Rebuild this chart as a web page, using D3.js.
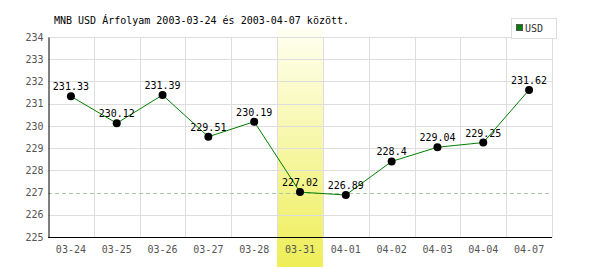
<!DOCTYPE html>
<html><head><meta charset="utf-8">
<script src="https://cdn.jsdelivr.net/npm/d3@7"></script>
<style>body{margin:0;background:#fff}svg{display:block}</style>
</head><body>
<svg id="c" width="600" height="270"></svg>
<script>
const categories = ["03-24","03-25","03-26","03-27","03-28","03-31","04-01","04-02","04-03","04-04","04-07"];
const values = [231.33,230.12,231.39,229.51,230.19,227.02,226.89,228.4,229.04,229.25,231.62];
const yTicks = [225,226,227,228,229,230,231,232,233,234];
const refValue = 227;
const highlight = "03-31";
const title = "MNB USD Árfolyam 2003-03-24 és 2003-04-07 között.";
const seriesName = "USD";

const svg = d3.select("#c");
const font = "'DejaVu Sans Mono', monospace";
const L = 48, R = 552, T = 37, B = 237;
const x = d3.scaleBand().domain(categories).range([L, R]);
const y = d3.scaleLinear().domain([225, 234]).range([B, T]);

const defs = svg.append("defs");
const g = defs.append("linearGradient").attr("id","hl").attr("x1",0).attr("y1",0).attr("x2",0).attr("y2",1);
g.append("stop").attr("offset","0%").attr("stop-color","#fffff2");
g.append("stop").attr("offset","100%").attr("stop-color","#eeee58");

svg.append("rect").attr("x", x(highlight)).attr("y", 28).attr("width", x.bandwidth()).attr("height", 239)
  .attr("fill","url(#hl)");

// horizontal grid
svg.append("g").selectAll("line").data(yTicks.filter(d=>d!==225 && d!==refValue)).join("line")
  .attr("x1", L).attr("x2", R).attr("y1", d=>Math.round(y(d))+0.5).attr("y2", d=>Math.round(y(d))+0.5)
  .attr("stroke","#dddddd");
// vertical grid
svg.append("g").selectAll("line").data(categories.slice(1).concat(["end"])).join("line")
  .attr("x1", (d,i)=> Math.round(i < categories.length-1 ? x(d) : R)+0.5)
  .attr("x2", (d,i)=> Math.round(i < categories.length-1 ? x(d) : R)+0.5)
  .attr("y1", T).attr("y2", B).attr("stroke","#dddddd");

// reference dashed line
svg.append("line").attr("x1", L).attr("x2", R).attr("y1", Math.round(y(refValue))+0.5).attr("y2", Math.round(y(refValue))+0.5)
  .attr("stroke","#a8c8a8").attr("stroke-dasharray","4,3");

// axes
const yAxis = d3.axisLeft(y).tickValues(yTicks).tickSize(0).tickPadding(5).tickFormat(d3.format("d"));
const ya = svg.append("g").attr("transform",`translate(${L+0.5},0)`).call(yAxis);
ya.select(".domain").attr("stroke","#000");
ya.selectAll("text").attr("fill","#555").style("font-family",font).style("font-size","10px");

const xAxis = d3.axisBottom(x).tickSize(0).tickPadding(8);
const xa = svg.append("g").attr("transform",`translate(0,${B+0.5})`).call(xAxis);
xa.select(".domain").attr("stroke","#000").attr("d", `M${L},0H${R}`);
xa.selectAll("text").attr("fill","#555").style("font-family",font).style("font-size","10px");

// line
const cx = d => x(d) + x.bandwidth()/2;
svg.append("path").datum(values)
  .attr("d", d3.line().x((d,i)=>cx(categories[i])).y(d=>y(d)))
  .attr("fill","none").attr("stroke","#008000").attr("stroke-width",1);
svg.append("g").selectAll("circle").data(values).join("circle")
  .attr("cx",(d,i)=>cx(categories[i])).attr("cy",d=>y(d)).attr("r",4).attr("fill","#000");
svg.append("g").selectAll("text").data(values).join("text")
  .attr("x",(d,i)=>cx(categories[i])).attr("y",d=>y(d)-6)
  .attr("text-anchor","middle").style("font-family",font).style("font-size","10px").attr("fill","#000")
  .text(d=>d);

// title
svg.append("text").attr("x",54).attr("y",24).style("font-family",font).style("font-size","10px").attr("fill","#000").text(title);

// legend
svg.append("rect").attr("x",511.5).attr("y",18.5).attr("width",45).attr("height",20).attr("fill","#fff").attr("stroke","#dddddd");
svg.append("rect").attr("x",516.5).attr("y",24.5).attr("width",6).attr("height",6).attr("fill","#008000").attr("stroke","#555");
svg.append("text").attr("x",525).attr("y",32).style("font-family",font).style("font-size","10px").attr("fill","#333").text(seriesName);
</script>
</body></html>
